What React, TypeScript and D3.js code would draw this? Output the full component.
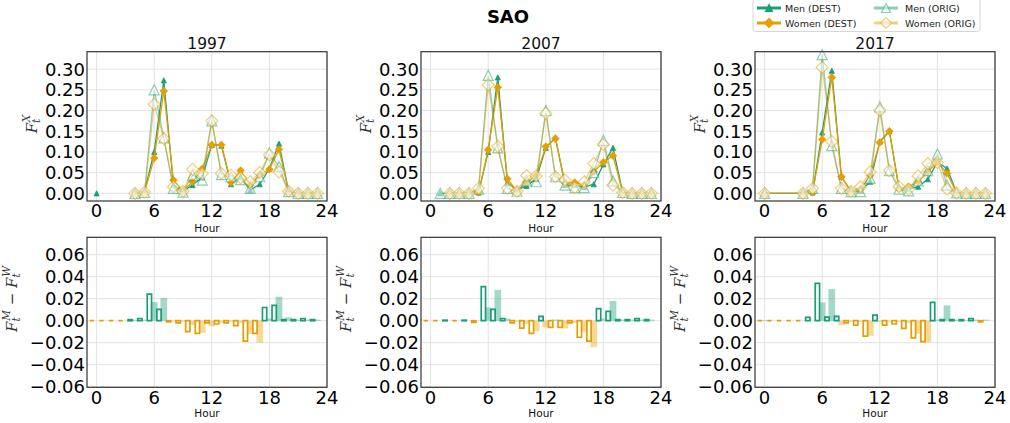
import React from 'react';
import * as d3 from 'd3';

// ---------------- data ----------------
const YEARS = ['1997', '2007', '2017'];
const X_TICKS = [0, 6, 12, 18, 24];
const TOP_Y_TICKS = [0, 0.05, 0.1, 0.15, 0.2, 0.25, 0.3];
const BOT_Y_TICKS = [-0.06, -0.04, -0.02, 0, 0.02, 0.04, 0.06];

const HOURS = [0, 1, 2, 3, 4, 5, 6, 7, 8, 9, 10, 11, 12, 13, 14, 15, 16, 17, 18, 19, 20, 21, 22, 23];
const HOURS_2017 = [0, 4, 5, 6, 7, 8, 9, 10, 11, 12, 13, 14, 15, 16, 17, 18, 19, 20, 21, 22, 23];

const MEN_DEST_1997 = [0, null, null, null, 0, 0.005, 0.10, 0.273, 0.02, 0.005, 0.02, 0.038, 0.117, 0.115, 0.022, 0.04, 0.008, 0.022, 0.06, 0.12, 0.005, 0, 0, 0];
const WOMEN_DEST_1997 = [null, null, null, null, 0, 0.003, 0.085, 0.247, 0.032, 0.005, 0.028, 0.059, 0.117, 0.117, 0.026, 0.055, 0.02, 0.045, 0.058, 0.106, 0.005, 0, 0, 0];
const MEN_ORIG_1997 = [null, null, null, null, 0, 0.002, 0.25, 0.134, 0.012, 0.003, 0.044, 0.032, 0.175, 0.045, 0.04, 0.033, 0.012, 0.04, 0.097, 0.065, 0.004, 0, 0, 0];
const WOMEN_ORIG_1997 = [null, null, null, null, 0, 0.003, 0.215, 0.132, 0.016, 0.005, 0.058, 0.047, 0.175, 0.048, 0.044, 0.037, 0.028, 0.05, 0.093, 0.052, 0.005, 0, 0, 0];

const MEN_DEST_2007 = [null, 0, 0, 0, 0, 0.002, 0.10, 0.28, 0.025, 0.008, 0.018, 0.035, 0.11, 0.135, 0.02, 0.02, 0.015, 0.022, 0.07, 0.11, 0.003, 0, 0, 0];
const WOMEN_DEST_2007 = [null, null, 0, 0, 0, 0.002, 0.105, 0.256, 0.035, 0.005, 0.026, 0.043, 0.113, 0.132, 0.025, 0.026, 0.02, 0.052, 0.075, 0.091, 0.003, 0, 0, 0];
const MEN_ORIG_2007 = [null, 0, 0, 0, 0, 0.01, 0.285, 0.11, 0.012, 0.005, 0.03, 0.028, 0.2, 0.04, 0.02, 0.014, 0.014, 0.05, 0.128, 0.03, 0.002, 0, 0, 0];
const WOMEN_ORIG_2007 = [null, null, 0, 0, 0, 0.012, 0.262, 0.113, 0.012, 0.005, 0.043, 0.042, 0.193, 0.04, 0.032, 0.014, 0.028, 0.072, 0.118, 0.02, 0.002, 0, 0, 0];

const MEN_DEST_2017 = [0, 0, 0.002, 0.147, 0.296, 0.04, 0.005, 0.006, 0.028, 0.125, 0.15, 0.012, 0.01, 0.016, 0.034, 0.075, 0.06, 0.002, 0, 0, 0];
const WOMEN_DEST_2017 = [0, 0, 0.002, 0.13, 0.28, 0.04, 0.005, 0.01, 0.043, 0.123, 0.15, 0.012, 0.016, 0.028, 0.052, 0.076, 0.048, 0.002, 0, 0, 0];
const MEN_ORIG_2017 = [0, 0, 0.012, 0.335, 0.115, 0.012, 0.004, 0.004, 0.036, 0.209, 0.055, 0.01, 0.006, 0.03, 0.055, 0.095, 0.02, 0.001, 0, 0, 0];
const WOMEN_ORIG_2017 = [0, 0, 0.012, 0.304, 0.125, 0.012, 0.005, 0.016, 0.052, 0.2, 0.055, 0.016, 0.01, 0.042, 0.072, 0.074, 0.01, 0.001, 0, 0, 0];

const DIFF_DEST_1997 = [0, 0, 0, 0, 0.001, 0.002, 0.0242, 0.0103, -0.001, -0.002, -0.010, -0.0115, -0.002, -0.003, -0.002, -0.0045, -0.0185, -0.0115, 0.012, 0.014, 0.001, 0.001, 0.002, 0.001];
const DIFF_ORIG_1997 = [0, 0, 0, 0, 0.0005, 0.001, 0.017, 0.0206, -0.001, -0.001, -0.004, -0.011, -0.005, -0.002, -0.001, -0.002, -0.012, -0.020, 0.002, 0.0218, 0.003, 0.001, 0.001, 0.001];
const DIFF_DEST_2007 = [0, 0, 0.0005, 0, 0.0005, -0.0015, 0.031, 0.0103, 0.002, -0.002, -0.0067, -0.0115, 0.004, -0.006, -0.006, -0.002, -0.015, -0.0185, 0.011, 0.0085, 0.001, 0.001, 0.002, 0.001];
const DIFF_ORIG_2007 = [0, 0, 0, 0, 0, 0, 0.012, 0.028, 0.002, -0.001, -0.003, -0.0094, -0.006, 0.001, -0.007, -0.002, -0.010, -0.024, 0.002, 0.018, 0.001, 0.001, 0.001, 0.001];
const DIFF_DEST_2017 = [0, 0, 0, 0, 0, 0.003, 0.034, 0.0033, 0.004, -0.002, -0.004, -0.014, 0.005, -0.004, -0.003, -0.007, -0.0155, -0.019, 0.0167, 0.001, 0.001, 0.001, 0.002, -0.001];
const DIFF_ORIG_2017 = [0.0005, 0, 0, 0, 0, 0, 0.0167, 0.0288, -0.004, -0.001, -0.001, -0.0137, -0.001, -0.001, -0.001, -0.002, -0.012, -0.0197, 0.001, 0.014, 0.001, 0.0005, 0.001, 0.001];

const LEGEND_LABELS = ['Men (DEST)', 'Women (DEST)', 'Men (ORIG)', 'Women (ORIG)'];

// ---------------- styling / layout ----------------
const GREEN = '#1b9e77';
const ORANGE = '#e69f00';
const FONT = 'DejaVu Sans, sans-serif';
const MATH = 'DejaVu Serif, serif';

const PANEL_LEFTS = [87, 421, 755];
const PANEL_W = 240;
const TOP_Y0 = 51.7, TOP_Y1 = 201;
const BOT_Y0 = 237.3, BOT_Y1 = 387.3;

const panels = [
  { hours: HOURS, md: MEN_DEST_1997, wd: WOMEN_DEST_1997, mo: MEN_ORIG_1997, wo: WOMEN_ORIG_1997, dd: DIFF_DEST_1997, od: DIFF_ORIG_1997 },
  { hours: HOURS, md: MEN_DEST_2007, wd: WOMEN_DEST_2007, mo: MEN_ORIG_2007, wo: WOMEN_ORIG_2007, dd: DIFF_DEST_2007, od: DIFF_ORIG_2007 },
  { hours: HOURS_2017, md: MEN_DEST_2017, wd: WOMEN_DEST_2017, mo: MEN_ORIG_2017, wo: WOMEN_ORIG_2017, dd: DIFF_DEST_2017, od: DIFF_ORIG_2017 },
];

const fmt = (v: number) => d3.format('.2f')(Math.abs(v) < 1e-9 ? 0 : v).replace('-', '\u2212');

function tri(cx: number, cy: number, r: number) {
  return `M${cx},${cy - r}L${cx + r},${cy + r}L${cx - r},${cy + r}Z`;
}
function dia(cx: number, cy: number, r: number) {
  return `M${cx},${cy - r}L${cx + r},${cy}L${cx},${cy + r}L${cx - r},${cy}Z`;
}

type Style = { color: string; opacity: number; marker: 'tri' | 'dia'; r: number; filled: boolean; lw: number };
const STYLES: Style[] = [
  { color: GREEN, opacity: 1, marker: 'tri', r: 2.6, filled: true, lw: 1.3 },
  { color: ORANGE, opacity: 1, marker: 'dia', r: 3.8, filled: true, lw: 1.3 },
  { color: GREEN, opacity: 0.5, marker: 'tri', r: 5, filled: false, lw: 1.3 },
  { color: ORANGE, opacity: 0.5, marker: 'dia', r: 6, filled: false, lw: 1.3 },
];

function Series({ hours, vals, st, x, y }: any) {
  const pts: [number, number | null][] = hours.map((h: number, i: number) => [h, vals[i]]);
  const line = d3
    .line<[number, number | null]>()
    .defined((d) => d[1] !== null)
    .x((d) => x(d[0]))
    .y((d) => y(d[1] as number));
  const mk = st.marker === 'tri' ? tri : dia;
  return (
    <g>
      <path d={line(pts) || ''} fill="none" stroke={st.color} strokeWidth={st.lw} strokeOpacity={st.opacity} />
      {pts
        .filter((d) => d[1] !== null)
        .map((d, i) => (
          <path
            key={i}
            d={mk(x(d[0]), y(d[1] as number), st.r)}
            fill={st.filled ? st.color : 'white'}
            fillOpacity={st.filled ? st.opacity : 0.5}
            stroke={st.color}
            strokeOpacity={st.opacity}
            strokeWidth={st.filled ? 0.8 : 1.2}
          />
        ))}
    </g>
  );
}

function Grid({ x, y, xt, yt, x0, x1, y0, y1 }: any) {
  return (
    <g stroke="#e3e3e3" strokeWidth={1}>
      {xt.map((t: number) => (
        <line key={'x' + t} x1={x(t)} x2={x(t)} y1={y0} y2={y1} />
      ))}
      {yt.map((t: number) => (
        <line key={'y' + t} x1={x0} x2={x1} y1={y(t)} y2={y(t)} />
      ))}
    </g>
  );
}

function Panel({ idx }: { idx: number }) {
  const p = panels[idx];
  const left = PANEL_LEFTS[idx];
  const right = left + PANEL_W;
  const x = d3.scaleLinear().domain([-1, 24]).range([left, right]);
  const yT = d3.scaleLinear().domain([-0.0185, 0.342]).range([TOP_Y1, TOP_Y0]);
  const yB = d3.scaleLinear().domain([-0.0605, 0.0758]).range([BOT_Y1, BOT_Y0]);
  const cx = (left + right) / 2;
  const series = [p.md, p.wd, p.mo, p.wo];

  const hollowW = 0.45;
  const filledW = 0.7;
  const zero = yB(0);

  return (
    <g>
      {/* top */}
      <Grid x={x} y={yT} xt={X_TICKS} yt={TOP_Y_TICKS} x0={left} x1={right} y0={TOP_Y0} y1={TOP_Y1} />
      {series.map((vals, i) => (
        <Series key={i} hours={p.hours} vals={vals} st={STYLES[i]} x={x} y={yT} />
      ))}
      <rect x={left} y={TOP_Y0} width={PANEL_W} height={TOP_Y1 - TOP_Y0} fill="none" stroke="#333" strokeWidth={1.2} />
      <text x={cx} y={49} textAnchor="middle" fontFamily={FONT} fontSize={15.5} fill="#111">
        {YEARS[idx]}
      </text>
      {TOP_Y_TICKS.map((t) => (
        <text key={t} x={left - 2} y={yT(t) + 6.5} textAnchor="end" fontFamily={FONT} fontSize={18} fill="#000">
          {fmt(t)}
        </text>
      ))}
      {X_TICKS.map((t) => (
        <text key={t} x={x(t)} y={217.3} textAnchor="middle" fontFamily={FONT} fontSize={18} fill="#000">
          {t}
        </text>
      ))}
      <text x={cx} y={231.5} textAnchor="middle" fontFamily={FONT} fontSize={10.5} fill="#111">
        Hour
      </text>
      <text transform={`translate(${left - 50.5},124) rotate(-90)`} textAnchor="middle" fontFamily={MATH} fontStyle="italic" fontSize={15} fill="#333">
        F<tspan fontSize={10.5} dy={3}>t</tspan>
        <tspan fontSize={10.5} dx={-3.5} dy={-10}>X</tspan>
      </text>

      {/* bottom */}
      <Grid x={x} y={yB} xt={X_TICKS} yt={BOT_Y_TICKS} x0={left} x1={right} y0={BOT_Y0} y1={BOT_Y1} />
      {HOURS.map((h, i) => {
        const v = p.od[i];
        const y1 = yB(v);
        return (
          <rect
            key={'o' + h}
            x={x(h - filledW / 2)}
            width={x(filledW) - x(0)}
            y={Math.min(y1, zero)}
            height={Math.abs(y1 - zero)}
            fill={v > 0 ? GREEN : ORANGE}
            fillOpacity={0.4}
          />
        );
      })}
      {HOURS.map((h, i) => {
        const v = p.dd[i];
        const y1 = yB(v);
        const x0 = x(h - 0.5 - hollowW / 2);
        const w = x(hollowW) - x(0);
        return (
          <path
            key={'d' + h}
            d={`M${x0},${zero}H${x0 + w}V${y1}H${x0}Z`}
            fill="none"
            stroke={v > 0 ? GREEN : ORANGE}
            strokeWidth={1.7}
          />
        );
      })}
      <rect x={left} y={BOT_Y0} width={PANEL_W} height={BOT_Y1 - BOT_Y0} fill="none" stroke="#333" strokeWidth={1.2} />
      {BOT_Y_TICKS.map((t) => (
        <text key={t} x={left - 2} y={yB(t) + 6.5} textAnchor="end" fontFamily={FONT} fontSize={18} fill="#000">
          {fmt(t)}
        </text>
      ))}
      {X_TICKS.map((t) => (
        <text key={t} x={x(t)} y={403.8} textAnchor="middle" fontFamily={FONT} fontSize={18} fill="#000">
          {t}
        </text>
      ))}
      <text x={cx} y={417} textAnchor="middle" fontFamily={FONT} fontSize={10.5} fill="#111">
        Hour
      </text>
      <text transform={`translate(${left - 70},299) rotate(-90)`} textAnchor="middle" fontFamily={MATH} fontStyle="italic" fontSize={15} fill="#333">
        F<tspan fontSize={10.5} dy={3}>t</tspan>
        <tspan fontSize={10.5} dx={-3.5} dy={-10}>M</tspan>
        <tspan fontStyle="normal" dy={7}>{' \u2212 '}</tspan>
        <tspan>F</tspan>
        <tspan fontSize={10.5} dy={3}>t</tspan>
        <tspan fontSize={10.5} dx={-3.5} dy={-10}>W</tspan>
      </text>
    </g>
  );
}

function Legend() {
  const cols = [757, 874];
  const textX = [785, 905];
  const rows = [8, 23];
  return (
    <g>
      <rect x={753} y={-1} width={227} height={32.5} rx={2.5} fill="white" stroke="#d6d6d6" strokeWidth={1} />
      {LEGEND_LABELS.map((lab, i) => {
        const c = Math.floor(i / 2);
        const r = i % 2;
        const st = STYLES[i];
        const x0 = cols[c];
        const x1 = x0 + 24;
        const y = rows[r];
        const mk = st.marker === 'tri' ? tri : dia;
        const mr = st.marker === 'tri' ? (st.filled ? 3.5 : 4.5) : st.filled ? 4.5 : 5.5;
        return (
          <g key={lab}>
            <line x1={x0} x2={x1} y1={y} y2={y} stroke={st.color} strokeOpacity={st.opacity} strokeWidth={3} />
            <path
              d={mk((x0 + x1) / 2, y, mr)}
              fill={st.filled ? st.color : 'white'}
              fillOpacity={st.filled ? 1 : 0.5}
              stroke={st.color}
              strokeOpacity={st.opacity}
              strokeWidth={1.2}
            />
            <text x={textX[c]} y={y + 3.5} fontFamily={FONT} fontSize={9.5} fill="#222">
              {lab}
            </text>
          </g>
        );
      })}
    </g>
  );
}

export default function App() {
  return (
    <svg
      width={1010}
      height={423}
      viewBox="0 0 1010 423"
      style={{ position: 'absolute', left: 0, top: 0, background: 'white' }}
    >
      <rect x={0} y={0} width={1010} height={423} fill="white" />
      <text x={508} y={23.3} textAnchor="middle" fontFamily={FONT} fontWeight="bold" fontSize={18} fill="#000">
        SAO
      </text>
      {[0, 1, 2].map((i) => (
        <Panel key={i} idx={i} />
      ))}
      <Legend />
    </svg>
  );
}
